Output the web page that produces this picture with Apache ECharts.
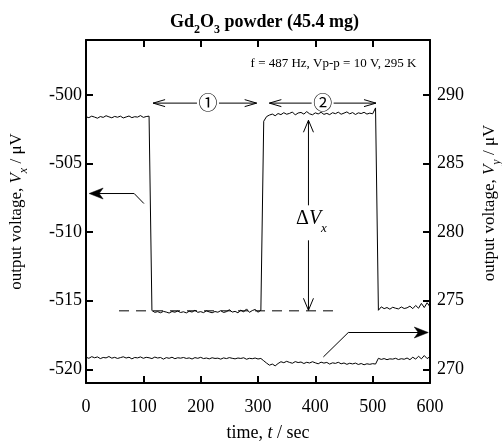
<!DOCTYPE html>
<html><head><meta charset="utf-8">
<script src="https://cdn.jsdelivr.net/npm/echarts@6/dist/echarts.min.js"></script>
<style>html,body{margin:0;padding:0;background:#fff}#c{width:502px;height:443px}</style>
</head><body><div id="c"></div>
<script>
// ---- data (time in sec; Vx on left axis, Vy on right axis, µV) ----
const timeSec = [
  0,5,10,15,20,25,30,35,40,45,50,55,60,65,70,75,80,85,90,95,100,105,110,
  115,120,125,130,135,140,145,150,155,160,165,170,175,180,185,190,195,200,205,210,
  215,220,225,230,235,240,245,250,255,260,265,270,275,280,285,290,295,300,305,
  310,315,320,325,330,335,340,345,350,355,360,365,370,375,380,385,390,395,400,405,
  410,415,420,425,430,435,440,445,450,455,460,465,470,475,480,485,490,495,500,505,
  510,515,520,525,530,535,540,545,550,555,560,565,570,575,580,585,590,595,600
];
const vxValues = [
  -501.60,-501.66,-501.55,-501.62,-501.70,-501.58,-501.64,-501.52,-501.60,-501.67,-501.57,-501.63,
  -501.55,-501.68,-501.61,-501.54,-501.66,-501.59,-501.62,-501.51,-501.64,-501.58,-501.55,
  -515.72,-515.85,-515.80,-515.88,-515.78,-515.83,-515.90,-515.79,-515.84,-515.76,-515.86,-515.81,
  -515.89,-515.77,-515.83,-515.70,-515.85,-515.80,-515.87,-515.74,-515.82,-515.88,-515.79,-515.84,
  -515.73,-515.86,-515.80,-515.66,-515.83,-515.78,-515.88,-515.69,-515.82,-515.60,-515.85,-515.72,
  -515.64,-515.84,-515.70,
  -501.92,-501.58,-501.47,-501.40,-501.52,-501.36,-501.44,-501.30,-501.41,-501.35,-501.25,-501.46,
  -501.32,-501.28,-501.40,-501.22,-501.38,-501.45,-501.31,-501.39,-501.27,-501.42,-501.35,-501.44,
  -501.30,-501.37,-501.26,-501.41,-501.33,-501.24,-501.38,-501.29,-501.43,-501.31,-501.36,-501.27,
  -501.40,-501.33,-501.38,-500.95,
  -515.70,-515.45,-515.58,-515.50,-515.62,-515.48,-515.55,-515.60,-515.46,-515.57,-515.52,-515.40,
  -515.58,-515.35,-515.55,-515.20,-515.50,-515.15,-515.45
];
const vyValues = [
  270.88,270.80,270.92,270.84,270.90,270.78,270.86,270.83,270.93,270.81,270.87,270.79,270.85,270.91,
  270.82,270.88,270.76,270.86,270.83,270.90,270.80,270.87,270.84,270.78,270.89,270.82,270.86,270.74,
  270.85,270.80,270.88,270.77,270.84,270.81,270.86,270.79,270.83,270.75,270.85,270.80,270.87,270.78,
  270.82,270.76,270.84,270.79,270.81,270.74,270.83,270.78,270.85,270.80,270.76,270.82,270.79,270.84,
  270.73,270.80,270.77,270.82,270.75,270.79,
  270.62,270.45,270.30,270.38,270.25,270.42,270.55,270.48,270.58,270.50,270.44,270.56,270.49,270.53,
  270.42,270.51,270.46,270.55,270.47,270.40,270.52,270.45,270.50,270.38,270.47,270.43,270.51,270.40,
  270.46,270.36,270.44,270.39,270.45,270.35,270.42,270.33,270.40,270.36,270.41,270.38,
  270.80,270.72,270.78,270.70,270.76,270.74,270.80,270.71,270.77,270.73,270.82,270.70,270.88,270.74,
  270.95,270.76,271.00,270.78,270.92
];
const timeTicks = [0,100,200,300,400,500,600];
const vxTicks = [-520,-515,-510,-505,-500];
const vyTicks = [270,275,280,285,290];

// ---- annotations, in data units (t / sec, Vx / µV) ----
const leftArrowPath  = [[101,-507.92],[84,-507.19],[5.5,-507.19]];
const rightArrowPath = [[414,-519.1],[457.5,-517.32],[597,-517.32]];
const spanArrows = [
  {label:'①', from:117, to:297.7, mid:211, v:-500.6},
  {label:'②', from:319.8, to:505.8, mid:411, v:-500.6}
];
const deltaArrow = {t:388, top:-501.85, bottom:-515.7, gapTop:-508.05, gapBottom:-510.6};
const dashPath = [[57.6,-515.74],[430.8,-515.74]];
const conditionNote = {text:'f = 487 Hz, Vp-p = 10 V, 295 K', t:287, v:-497.7};

const SERIF = 'Liberation Serif';
const vxData = timeSec.map((t,i)=>[t, vxValues[i]]);
const vyData = timeSec.map((t,i)=>[t, vyValues[i]]);

function richName(size){
  return {
    t:{fontFamily:SERIF,fontSize:size,color:'#000',lineHeight:20,verticalAlign:'top'},
    i:{fontFamily:SERIF,fontSize:size,fontStyle:'italic',color:'#000',lineHeight:20,verticalAlign:'top'},
    s:{fontFamily:SERIF,fontSize:12,fontStyle:'italic',color:'#000',lineHeight:12,verticalAlign:'top',padding:[10,0,0,0]}
  };
}
const axisCommon = {
  axisLine:{show:true,onZero:false,lineStyle:{color:'#000',width:2}},
  axisTick:{show:true,inside:true,length:7,lineStyle:{color:'#000',width:2}},
  splitLine:{show:false},
  axisLabel:{color:'#000',fontFamily:SERIF,fontSize:18}
};

const chart = echarts.init(document.getElementById('c'), null, {renderer:'canvas'});
chart.setOption({
  animation:false,
  backgroundColor:'#fff',
  title:{
    text:'{b|Gd}{s|2}{b|O}{s|3}{b| powder (45.4 mg)}',
    left:165, top:8,
    textStyle:{rich:{
      b:{fontFamily:SERIF,fontSize:18,fontWeight:'bold',color:'#000',lineHeight:20,verticalAlign:'top'},
      s:{fontFamily:SERIF,fontSize:12,fontWeight:'bold',color:'#000',lineHeight:12,verticalAlign:'top',padding:[11,0,0,0]}
    }}
  },
  grid:{left:86,right:72,top:40,bottom:60,containLabel:false,outerBoundsMode:'none'},
  xAxis:[
    Object.assign({}, axisCommon, {
      type:'value',position:'bottom',min:0,max:600,interval:100,
      axisLabel:Object.assign({},axisCommon.axisLabel,{margin:15,customValues:timeTicks}),
      name:'{t|time, }{i|t}{t| / sec}',nameLocation:'middle',nameGap:41,
      nameTextStyle:{rich:richName(18),padding:[0,0,0,20]}
    }),
    Object.assign({}, axisCommon, {
      type:'value',position:'top',min:0,max:600,interval:100,
      axisLabel:{show:false}
    })
  ],
  yAxis:[
    Object.assign({}, axisCommon, {
      type:'value',position:'left',min:-521,max:-496,
      axisTick:Object.assign({},axisCommon.axisTick,{customValues:vxTicks}),
      axisLabel:Object.assign({},axisCommon.axisLabel,{margin:4,customValues:vxTicks}),
      name:'{t|output voltage, }{i|V}{s|x}{t| / μV}',nameLocation:'middle',nameGap:58,
      nameTextStyle:{rich:richName(17)}
    }),
    Object.assign({}, axisCommon, {
      type:'value',position:'right',min:269,max:294,alignTicks:false,
      axisTick:Object.assign({},axisCommon.axisTick,{customValues:vyTicks}),
      axisLabel:Object.assign({},axisCommon.axisLabel,{margin:7,customValues:vyTicks}),
      name:'{t|output voltage, }{i|V}{s|y}{t| / μV}',nameLocation:'middle',nameGap:51,
      nameTextStyle:{rich:richName(17),padding:[0,0,0,17]}
    })
  ],
  series:[
    {type:'line',name:'Vx',xAxisIndex:0,yAxisIndex:0,data:vxData,showSymbol:false,
     lineStyle:{color:'#000',width:1},silent:true},
    {type:'line',name:'Vy',xAxisIndex:0,yAxisIndex:1,data:vyData,showSymbol:false,
     lineStyle:{color:'#000',width:1},silent:true}
  ]
});

// ---- annotation drawing through the chart's own scales ----
function P(p){ return chart.convertToPixel({seriesIndex:0}, p); }
function line(pts, extra){
  return Object.assign({type:'polyline',shape:{points:pts},silent:true,
    style:{stroke:'#000',lineWidth:1,fill:null}}, extra||{});
}
function head(tip, from, len, half){
  const dx=tip[0]-from[0], dy=tip[1]-from[1], L=Math.hypot(dx,dy), ux=dx/L, uy=dy/L;
  const bx=tip[0]-ux*len, by=tip[1]-uy*len;
  return {a:[bx-uy*half,by+ux*half], b:[bx+uy*half,by-ux*half], ux, uy};
}
function filledHead(tip, from){
  const h=head(tip,from,14,5.5);
  const n=[tip[0]-h.ux*10, tip[1]-h.uy*10];
  return {type:'polygon',shape:{points:[tip,h.a,n,h.b]},silent:true,style:{fill:'#000',stroke:'#000',lineWidth:0.5}};
}
function openHead(tip, from, len, half){
  const h=head(tip,from,len,half);
  return line([h.a,tip,h.b]);
}
const els=[];
[leftArrowPath, rightArrowPath].forEach(path=>{
  const pts=path.map(P);
  const tip=pts[pts.length-1], prev=pts[pts.length-2];
  const h=head(tip,prev,14,5.5);
  const lineEnd=[tip[0]-h.ux*8, tip[1]-h.uy*8];
  els.push(line(pts.slice(0,-1).concat([lineEnd])));
  els.push(filledHead(tip,prev));
});
spanArrows.forEach(s=>{
  const a=P([s.from,s.v]), b=P([s.to,s.v]), m=P([s.mid,s.v]);
  els.push(line([a,[m[0]-10,m[1]]]));
  els.push(line([[m[0]+12,m[1]],b]));
  els.push(openHead(a,[m[0],m[1]],12,3.5));
  els.push(openHead(b,[m[0],m[1]],12,3.5));
  els.push({type:'text',silent:true,x:m[0]+1,y:m[1],style:{text:s.label,fontFamily:'Noto Sans CJK JP',fontSize:19,fill:'#000',align:'center',verticalAlign:'middle'}});
});
(function(){
  const top=P([deltaArrow.t,deltaArrow.top]), bot=P([deltaArrow.t,deltaArrow.bottom]);
  const g1=P([deltaArrow.t,deltaArrow.gapTop]), g2=P([deltaArrow.t,deltaArrow.gapBottom]);
  els.push(line([top,g1]));
  els.push(line([g2,bot]));
  els.push(openHead(top,g1,12,5));
  els.push(openHead(bot,g2,12,5));
  els.push({type:'text',silent:true,x:top[0]+3,y:(g1[1]+g2[1])/2-3,style:{
    text:'{d|Δ}{v|V}{s|x}',align:'center',verticalAlign:'middle',
    rich:{
      d:{fontFamily:SERIF,fontSize:20,fill:'#000',lineHeight:22,verticalAlign:'top'},
      v:{fontFamily:SERIF,fontSize:20,fontStyle:'italic',fill:'#000',lineHeight:22,verticalAlign:'top'},
      s:{fontFamily:SERIF,fontSize:13,fontStyle:'italic',fill:'#000',lineHeight:13,verticalAlign:'top',padding:[13,0,0,0]}
    }}});
})();
els.push(line(dashPath.map(P),{style:{stroke:'#000',lineWidth:1,fill:null,lineDash:[10,7]}}));
(function(){
  const p=P([conditionNote.t,conditionNote.v]);
  els.push({type:'text',silent:true,x:p[0],y:p[1],style:{text:conditionNote.text,fontFamily:SERIF,fontSize:13,fill:'#000',align:'left',verticalAlign:'middle'}});
})();
chart.setOption({graphic:{elements:els}});
</script></body></html>
